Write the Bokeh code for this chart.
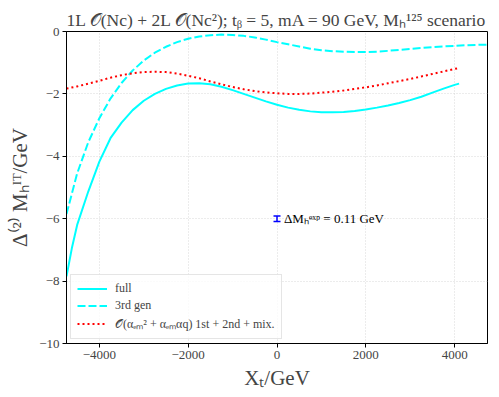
from bokeh.plotting import figure
from bokeh.models import (ColumnDataSource, FixedTicker, Legend, LegendItem,
                          Whisker, TeeHead, Label, Range1d)
from bokeh.embed import file_html
from bokeh.resources import INLINE

# ---- data ----
xt_full = [-4740, -4620, -4500, -4250, -4000, -3750, -3500, -3250, -3000, -2750, -2500,
           -2250, -2000, -1750, -1500, -1250, -1000, -750, -500, -250, 0,
           250, 500, 750, 1000, 1250, 1500, 1750, 2000, 2250, 2500,
           2750, 3000, 3250, 3500, 3750, 4000, 4100]
full = [-7.85, -6.95, -6.2, -5.13, -4.17, -3.42, -2.92, -2.52, -2.22, -2.0, -1.84,
        -1.73, -1.67, -1.66, -1.69, -1.77, -1.88, -2.0, -2.12, -2.24, -2.35,
        -2.44, -2.51, -2.56, -2.59, -2.59, -2.58, -2.55, -2.5, -2.44, -2.37,
        -2.29, -2.2, -2.09, -1.96, -1.83, -1.71, -1.67]

xt_3rd = [-4740, -4500, -4250, -4000, -3750, -3500, -3250, -3000, -2750, -2500,
          -2250, -2000, -1750, -1500, -1250, -1000, -750, -500, -250, 0,
          250, 500, 750, 1000, 1250, 1500, 1750, 2000, 2250, 2500,
          2750, 3000, 3250, 3500, 3750, 4000, 4250, 4500, 4740]
third = [-5.85, -4.55, -3.55, -2.78, -2.15, -1.65, -1.25, -0.93, -0.68, -0.49,
         -0.34, -0.23, -0.16, -0.12, -0.1, -0.11, -0.14, -0.19, -0.26, -0.34,
         -0.41, -0.48, -0.55, -0.6, -0.63, -0.65, -0.66, -0.66, -0.65, -0.62,
         -0.59, -0.56, -0.53, -0.5, -0.48, -0.46, -0.44, -0.43, -0.42]

xt_em = [-4740, -4500, -4250, -4000, -3750, -3500, -3250, -3000, -2750, -2500,
         -2250, -2000, -1750, -1500, -1250, -1000, -750, -500, -250, 0,
         250, 500, 750, 1000, 1250, 1500, 1750, 2000, 2250, 2500,
         2750, 3000, 3250, 3500, 3750, 4000, 4100]
em = [-1.83, -1.76, -1.67, -1.58, -1.48, -1.4, -1.34, -1.3, -1.29, -1.3,
      -1.35, -1.42, -1.5, -1.6, -1.69, -1.78, -1.85, -1.91, -1.95, -1.98,
      -2.0, -2.0, -1.99, -1.96, -1.93, -1.89, -1.84, -1.79, -1.73, -1.66,
      -1.59, -1.52, -1.44, -1.36, -1.28, -1.2, -1.17]

exp_x = [0]
exp_y = [-6.0]
exp_err = [0.09]

x_ticks = [-4000, -2000, 0, 2000, 4000]
y_ticks = [0, -2, -4, -6, -8, -10]

SERIF = "Liberation Serif"

p = figure(frame_width=421, frame_height=312, output_backend="svg",
           toolbar_location=None,
           x_range=Range1d(-4740, 4740), y_range=Range1d(-10, 0),
           min_border_left=66, min_border_right=4, min_border_top=31,
           min_border_bottom=50)

p.title.text = "1L 𝒪(Nc) + 2L 𝒪(Nc²); tᵦ = 5, mA = 90 GeV, Mₕ¹²⁵ scenario"
p.title.text_font = SERIF
p.title.text_font_size = "17.5px"
p.title.text_font_style = "normal"
p.title.align = "center"
p.title.standoff = 3

l_full = p.line(xt_full, full, line_color="#00ffff", line_width=2)
l_3rd = p.line(xt_3rd, third, line_color="#00ffff", line_width=2, line_dash="8 3")
l_em = p.line(xt_em, em, line_color="#ff0000", line_width=2, line_dash="2 3")

src = ColumnDataSource(dict(x=exp_x, lo=[y - e for y, e in zip(exp_y, exp_err)],
                            hi=[y + e for y, e in zip(exp_y, exp_err)]))
w = Whisker(source=src, base="x", lower="lo", upper="hi", line_color="#0000ff",
            line_width=1.5,
            upper_head=TeeHead(size=7, line_color="#0000ff", line_width=1.5),
            lower_head=TeeHead(size=7, line_color="#0000ff", line_width=1.5))
p.add_layout(w)
p.add_layout(Label(x=exp_x[0], y=exp_y[0], x_offset=7, text="ΔMₕᵉˣᵖ = 0.11 GeV",
                   text_font=SERIF, text_font_size="13px", text_baseline="middle",
                   text_color="black"))

legend = Legend(items=[LegendItem(label="full", renderers=[l_full]),
                       LegendItem(label="3rd gen", renderers=[l_3rd]),
                       LegendItem(label="𝒪(αₑₘ² + αₑₘαq) 1st + 2nd + mix.", renderers=[l_em])],
                location="bottom_left", label_text_font=SERIF,
                label_text_font_size="12px", glyph_width=30, glyph_height=15,
                label_height=15, label_standoff=8, spacing=2, padding=6,
                margin=4, border_line_color="#cccccc", border_line_width=1,
                background_fill_alpha=0.8)
p.add_layout(legend)

p.xaxis.ticker = FixedTicker(ticks=x_ticks)
p.yaxis.ticker = FixedTicker(ticks=y_ticks)
p.xaxis.major_label_overrides = {t: (str(t).replace("-", "−")) for t in x_ticks}
p.yaxis.major_label_overrides = {t: (str(t).replace("-", "−")) for t in y_ticks}
p.xaxis.axis_label = "Xₜ/GeV"
p.yaxis.axis_label = "Δ⁽²⁾ Mₕᴵᵀ/GeV"
for ax in (p.xaxis, p.yaxis):
    ax.axis_label_text_font = SERIF
    ax.axis_label_text_font_size = "21px"
    ax.axis_label_text_font_style = "normal"
    ax.major_label_text_font = SERIF
    ax.major_label_text_font_size = "13px"
    ax.major_tick_out = 4
    ax.major_tick_in = 0
    ax.minor_tick_out = 0
    ax.minor_tick_in = 0
    ax.axis_line_color = "black"
    ax.major_tick_line_color = "black"
    ax.axis_label_standoff = 4
    ax.major_label_standoff = 3
p.yaxis.major_label_orientation = "horizontal"

p.xgrid.ticker = FixedTicker(ticks=x_ticks)
p.ygrid.ticker = FixedTicker(ticks=y_ticks)
for g in (p.xgrid, p.ygrid):
    g.grid_line_color = "#cfcfcf"
    g.grid_line_dash = "1 2"
    g.grid_line_width = 0.8

p.outline_line_color = "black"
p.outline_line_width = 1
p.outline_line_alpha = 1

open("out.html", "w").write(file_html(p, INLINE))
